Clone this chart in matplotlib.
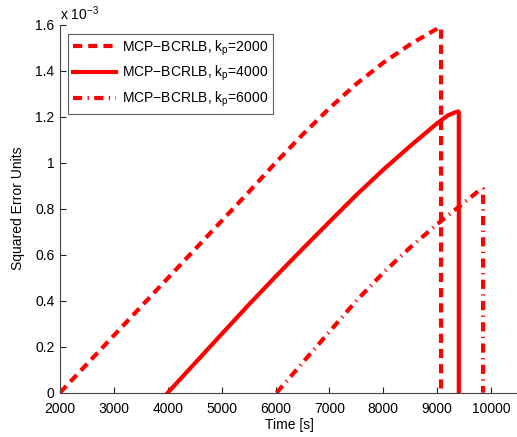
import matplotlib
matplotlib.use("Agg")
import matplotlib.pyplot as plt

plt.rcParams['font.family'] = ['Liberation Sans', 'DejaVu Sans']

# Data (squared error in units of 1e-3)
t_2000 = [2000, 3000, 4000, 5000, 5500, 6000, 6500, 7000, 7500, 8000, 8500, 8800, 9000, 9040, 9070, 9070]
y_2000 = [0.0, 0.249, 0.498, 0.747, 0.872, 1.0, 1.122, 1.237, 1.343, 1.435, 1.515, 1.556, 1.583, 1.59, 1.585, 0.0]

t_4000 = [4000, 5000, 5500, 6000, 6500, 7000, 7500, 8000, 8500, 9000, 9200, 9330, 9390, 9400, 9400]
y_4000 = [0.0, 0.255, 0.382, 0.505, 0.625, 0.743, 0.86, 0.97, 1.073, 1.172, 1.206, 1.219, 1.223, 1.218, 0.0]

t_6000 = [6020, 6500, 7000, 7500, 8000, 8500, 9000, 9500, 9830, 9850, 9850]
y_6000 = [0.0, 0.13, 0.265, 0.40, 0.522, 0.632, 0.733, 0.827, 0.889, 0.885, 0.0]

labels = ['MCP\u2212BCRLB, k$_\\mathregular{p}$=2000',
          'MCP\u2212BCRLB, k$_\\mathregular{p}$=4000',
          'MCP\u2212BCRLB, k$_\\mathregular{p}$=6000']
xticks = [2000, 3000, 4000, 5000, 6000, 7000, 8000, 9000, 10000]
yticks = [0, 0.2, 0.4, 0.6, 0.8, 1.0, 1.2, 1.4, 1.6]
ytick_labels = ['0', '0.2', '0.4', '0.6', '0.8', '1', '1.2', '1.4', '1.6']

fig = plt.figure(figsize=(5.17, 4.37), dpi=100)
ax = fig.add_axes([0.1161, 0.1014, 0.886, 0.842])

red = '#ff0000'
ax.plot(t_2000, y_2000, color=red, lw=3, dashes=(2.2, 1.45), label=labels[0])
ax.plot(t_4000, y_4000, color=red, lw=3, label=labels[1])
ax.plot(t_6000, y_6000, color=red, lw=3, dashes=(2.2, 1.3, 0.3, 1.3), label=labels[2])

ax.set_xlim(2000, 10500)
ax.set_ylim(0, 1.6)
ax.set_xticks(xticks)
ax.set_xticklabels([str(v) for v in xticks])
ax.set_yticks(yticks)
ax.set_yticklabels(ytick_labels)
ax.tick_params(direction='in', length=4, labelsize=10, colors='#222222', labelcolor='black')
ax.tick_params(axis='x', pad=7)
ax.tick_params(axis='y', pad=4)
ax.spines['top'].set_visible(False)
ax.spines['right'].set_visible(False)
for s in ('left', 'bottom'):
    ax.spines[s].set_color('#444444')
    ax.spines[s].set_linewidth(0.8)

ax.set_xlabel('Time [s]', fontsize=10, labelpad=1)
ax.set_ylabel('Squared Error Units', fontsize=10, labelpad=7)
ax.text(0.0, 1.006, 'x 10$^{\\mathregular{-3}}$', transform=ax.transAxes, fontsize=10,
        ha='left', va='bottom')

leg = ax.legend(loc='upper left', bbox_to_anchor=(0.0175, 0.976), fontsize=10,
                frameon=True, fancybox=False, edgecolor='#333333', handlelength=3.1,
                handletextpad=0.4, labelspacing=0.45, borderpad=0.35, borderaxespad=0.0)
leg.get_frame().set_linewidth(0.8)

fig.savefig('out.png', dpi=100)
